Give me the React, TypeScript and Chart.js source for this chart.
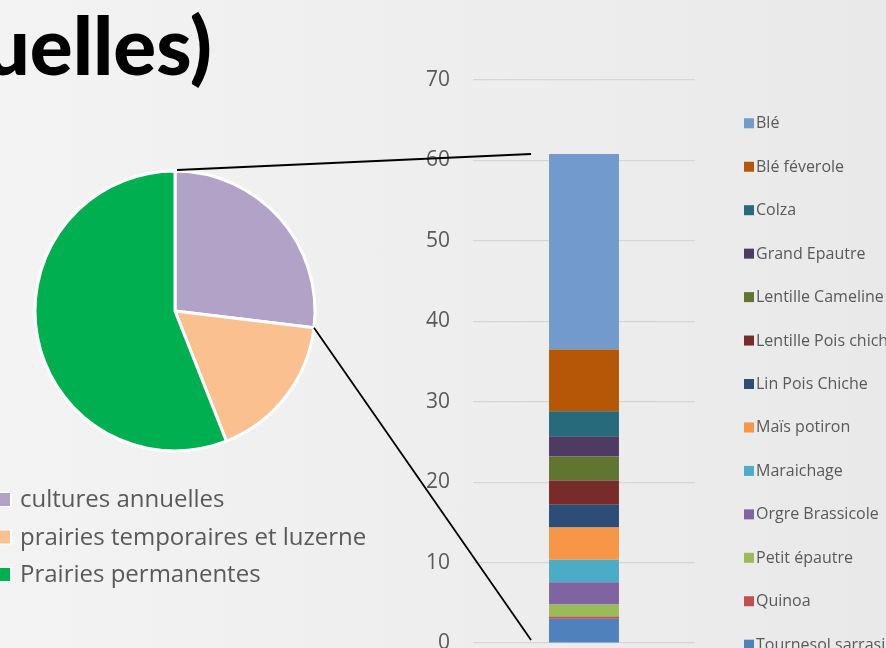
import React, { useEffect, useRef } from "react";
import { Chart, registerables } from "chart.js";

Chart.register(...registerables);

// ---- Pie data ----
const pieLabels = ["cultures annuelles", "prairies temporaires et luzerne", "Prairies permanentes"];
const pieValues = [60.7, 38.6, 126.3];
const pieColors = ["#B3A2C7", "#FAC090", "#00B050"];

// ---- Stacked bar data (bottom to top) ----
const cropLabels = [
  "Tournesol sarrasin",
  "Quinoa",
  "Petit épautre",
  "Orgre Brassicole",
  "Maraichage",
  "Maïs potiron",
  "Lin Pois Chiche",
  "Lentille Pois chiche",
  "Lentille Cameline",
  "Grand Epautre",
  "Colza",
  "Blé féverole",
  "Blé",
];
const cropValues = [3.0, 0.3, 1.5, 2.75, 2.8, 4.0, 2.85, 3.0, 3.0, 2.5, 3.1, 7.7, 24.3];
const cropColors = [
  "#4F81BD",
  "#C0504D",
  "#9BBB59",
  "#8064A2",
  "#4BACC6",
  "#F79646",
  "#2C4D75",
  "#772C2A",
  "#5F7530",
  "#4D3B62",
  "#276A7C",
  "#B65708",
  "#729ACA",
];
const yMin = 0;
const yMax = 70;
const yStep = 10;

const TEXT_GREY = "#595959";
const FONT = '"Open Sans", "Noto Sans", sans-serif';

export default function App() {
  const pieRef = useRef<HTMLCanvasElement | null>(null);
  const barRef = useRef<HTMLCanvasElement | null>(null);

  useEffect(() => {
    if (!pieRef.current || !barRef.current) return;

    const pieLegend = {
      id: "pieLegend",
      afterDraw(chart: any) {
        const ctx = chart.ctx;
        const labels = chart.data.labels as string[];
        const colors = chart.data.datasets[0].backgroundColor as string[];
        ctx.save();
        ctx.font = `24px ${FONT}`;
        ctx.textBaseline = "alphabetic";
        labels.forEach((lab, i) => {
          const yb = 507 + i * 37.5;
          ctx.fillStyle = "#FFFFFF";
          ctx.fillRect(-3, yb - 15, 15, 15);
          ctx.fillStyle = colors[i];
          ctx.fillRect(-2, yb - 14, 12, 13);
          ctx.fillStyle = TEXT_GREY;
          ctx.fillText(lab, 20, yb);
        });
        ctx.restore();
      },
    };

    const pie = new Chart(pieRef.current, {
      type: "pie",
      data: {
        labels: pieLabels,
        datasets: [
          {
            data: pieValues,
            backgroundColor: pieColors,
            borderColor: "#FFFFFF",
            borderWidth: 3,
          },
        ],
      },
      options: {
        responsive: false,
        animation: false,
        radius: 140,
        layout: { padding: { left: 25, top: 161, right: 561, bottom: 187 } },
        plugins: { legend: { display: false }, tooltip: { enabled: false } },
      } as any,
      plugins: [pieLegend],
    });

    const barLegend = {
      id: "barLegend",
      afterDraw(chart: any) {
        const ctx = chart.ctx;
        const ds = chart.data.datasets;
        const n = ds.length;
        const x0 = chart.chartArea.right + 49;
        const yb0 = chart.chartArea.top + 48.3;
        ctx.save();
        ctx.font = `16px ${FONT}`;
        ctx.textBaseline = "alphabetic";
        for (let i = 0; i < n; i++) {
          const d = ds[n - 1 - i];
          const yb = yb0 + i * 43.45;
          ctx.fillStyle = d.backgroundColor;
          ctx.fillRect(x0, yb - 10, 10, 10);
          ctx.fillStyle = TEXT_GREY;
          ctx.fillText(d.label, x0 + 12, yb);
        }
        ctx.restore();
      },
    };

    const connectors = {
      id: "connectors",
      afterDraw(chart: any) {
        const ctx = chart.ctx;
        const arc: any = pie.getDatasetMeta(0).data[0];
        if (!arc) return;
        const { x, y, startAngle, endAngle, outerRadius } = arc.getProps(
          ["x", "y", "startAngle", "endAngle", "outerRadius"],
          true
        );
        const topMeta: any = chart.getDatasetMeta(chart.data.datasets.length - 1).data[0];
        const botMeta: any = chart.getDatasetMeta(0).data[0];
        const xEnd = topMeta.x - topMeta.width / 2 - 18;
        const yTop = topMeta.y;
        const yBot = botMeta.base - 2.5;
        ctx.save();
        ctx.strokeStyle = "#000000";
        ctx.lineWidth = 1.8;
        ctx.beginPath();
        ctx.moveTo(x + (outerRadius + 1) * Math.cos(startAngle) + 2, y + (outerRadius + 1) * Math.sin(startAngle));
        ctx.lineTo(xEnd, yTop);
        ctx.moveTo(x + outerRadius * Math.cos(endAngle), y + outerRadius * Math.sin(endAngle));
        ctx.lineTo(xEnd, yBot);
        ctx.stroke();
        ctx.restore();
      },
    };

    const bar = new Chart(barRef.current, {
      type: "bar",
      data: {
        labels: [""],
        datasets: cropLabels.map((lab, i) => ({
          label: lab,
          data: [cropValues[i]],
          backgroundColor: cropColors[i],
          borderWidth: 0,
          barPercentage: 0.315,
          categoryPercentage: 1,
        })),
      },
      options: {
        responsive: false,
        animation: false,
        layout: { padding: { left: 413, top: 80, right: 191, bottom: 5 } },
        plugins: { legend: { display: false }, tooltip: { enabled: false } },
        scales: {
          x: { stacked: true, display: false },
          y: {
            stacked: true,
            min: yMin,
            max: yMax,
            ticks: {
              stepSize: yStep,
              padding: 23,
              color: TEXT_GREY,
              font: { family: FONT, size: 21 },
            },
            grid: { color: "#D6D6D6", lineWidth: 1.2, drawTicks: false },
            border: { display: false },
            afterFit(scale: any) {
              scale.width = 60;
              scale.paddingTop = 0;
              scale.paddingBottom = 0;
            },
          },
        },
      } as any,
      plugins: [barLegend, connectors],
    });

    return () => {
      bar.destroy();
      pie.destroy();
    };
  }, []);

  return (
    <div
      style={{
        position: "fixed",
        left: 0,
        top: 0,
        width: 886,
        height: 648,
        overflow: "hidden",
        background: "linear-gradient(90deg, #F3F3F3 0%, #EEEEEE 50%, #E9E9E9 100%)",
      }}
    >
      <div
        style={{
          position: "absolute",
          right: 886 - 212,
          top: 4,
          fontFamily: 'Lato, "Open Sans", sans-serif',
          fontWeight: 900,
          fontSize: 80,
          lineHeight: "80px",
          color: "#000",
          whiteSpace: "nowrap",
        }}
      >
        uelles)
      </div>
      <canvas ref={pieRef} width={886} height={648} style={{ position: "absolute", left: 0, top: 0 }} />
      <canvas ref={barRef} width={886} height={648} style={{ position: "absolute", left: 0, top: 0 }} />
    </div>
  );
}
